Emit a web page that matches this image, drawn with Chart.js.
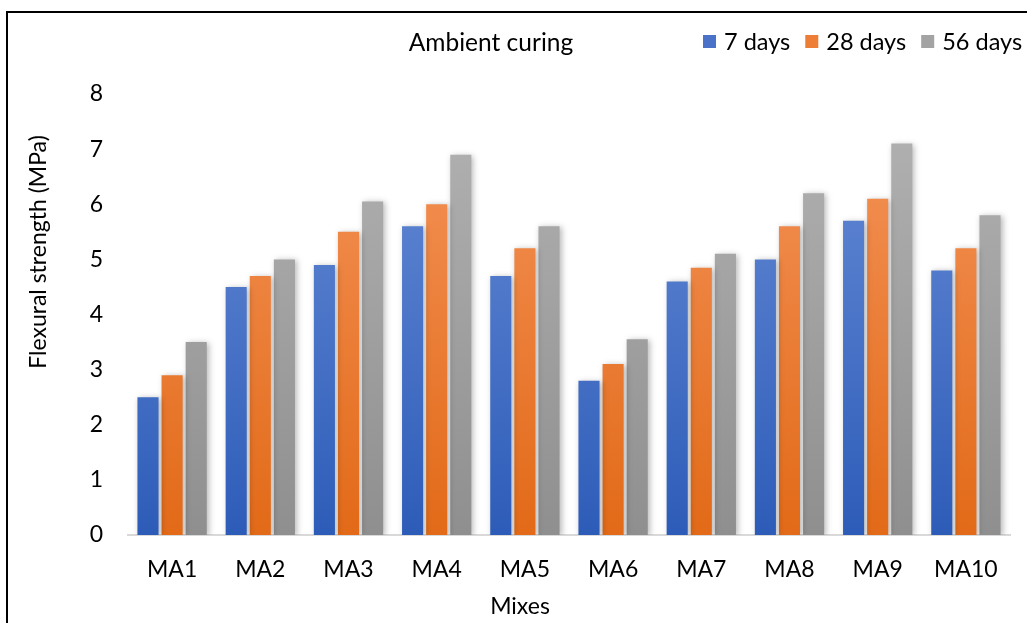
<!DOCTYPE html>
<html>
<head>
<meta charset="utf-8">
<script src="https://cdn.jsdelivr.net/npm/chart.js@4.4.1/dist/chart.umd.min.js"></script>
<style>
  html, body { margin: 0; padding: 0; background: #fff; }
  #wrap { position: relative; width: 1027px; height: 623px; overflow: hidden; }
  #frame { position: absolute; left: 6px; top: 11px; width: 1100px; height: 700px;
           border-left: 2px solid #000; border-top: 2px solid #000; pointer-events: none; }
  canvas { position: absolute; left: 0; top: 0; }
</style>
</head>
<body>
<div id="wrap">
  <canvas id="chart" width="1027" height="623"></canvas>
  <div id="frame"></div>
</div>
<script>
// Mix designations along the x axis
const categories = ['MA1', 'MA2', 'MA3', 'MA4', 'MA5', 'MA6', 'MA7', 'MA8', 'MA9', 'MA10'];
// Flexural strength (MPa) at each curing age
const days7  = [2.5, 4.5, 4.9, 5.6, 4.7, 2.8, 4.6, 5.0, 5.7, 4.8];
const days28 = [2.9, 4.7, 5.5, 6.0, 5.2, 3.1, 4.85, 5.6, 6.1, 5.2];
const days56 = [3.5, 5.0, 6.05, 6.9, 5.6, 3.55, 5.1, 6.2, 7.1, 5.8];
const seriesLabels = ['7 days', '28 days', '56 days'];
const yTicks = [0, 1, 2, 3, 4, 5, 6, 7, 8];

const FONT = 'Lato, "Open Sans", sans-serif';

// vertical gradient for a bar fill: light at top, deep at bottom
function vGrad(top, bottom) {
  return function (ctx) {
    const chart = ctx.chart;
    const a = chart.chartArea;
    if (!a) return bottom;
    const g = chart.ctx.createLinearGradient(0, a.bottom, 0, a.top);
    g.addColorStop(0, bottom);
    g.addColorStop(1, top);
    return g;
  };
}

const palette = [
  { top: '#6a8ed8', bottom: '#2d5cb8', legend: '#4a72c8' },
  { top: '#f5955c', bottom: '#e26a18', legend: '#ee7d35' },
  { top: '#b3b3b3', bottom: '#8f8f8f', legend: '#a3a3a3' }
];

// soft drop shadow behind the bars
const barShadow = {
  id: 'barShadow',
  beforeDatasetsDraw(chart) {
    const c = chart.ctx;
    c.save();
    c.shadowColor = 'rgba(0,0,0,0.28)';
    c.shadowBlur = 6;
    c.shadowOffsetX = 2;
    c.shadowOffsetY = 1;
  },
  afterDatasetsDraw(chart) {
    chart.ctx.restore();
  }
};

// headline, legend row and axis titles
const annotations = {
  id: 'annotations',
  afterDraw(chart) {
    const c = chart.ctx;
    c.save();
    c.fillStyle = '#000';
    c.textBaseline = 'middle';
    c.textAlign = 'center';
    c.font = '24.5px ' + FONT;
    c.fillText('Ambient curing', 491, 43);

    // legend
    c.textAlign = 'left';
    c.font = '23.5px ' + FONT;
    let x = 703;
    chart.data.datasets.forEach((ds, i) => {
      c.fillStyle = palette[i].legend;
      c.fillRect(x, 35, 13, 13);
      c.fillStyle = '#000';
      c.fillText(ds.label, x + 21, 42);
      x += 21 + c.measureText(ds.label).width + 15;
    });

    c.font = '23px ' + FONT;
    c.textAlign = 'center';
    c.fillText('Mixes', 520, 607);

    c.translate(39, 252);
    c.rotate(-Math.PI / 2);
    c.fillText('Flexural strength (MPa)', 0, 0);
    c.restore();
  }
};

const series = [days7, days28, days56];

new Chart(document.getElementById('chart'), {
  type: 'bar',
  data: {
    labels: categories,
    datasets: series.map((d, i) => ({
      label: seriesLabels[i],
      data: d,
      backgroundColor: vGrad(palette[i].top, palette[i].bottom),
      borderWidth: 0,
      barPercentage: 0.875,
      categoryPercentage: 0.82
    }))
  },
  options: {
    responsive: false,
    animation: false,
    devicePixelRatio: 1,
    layout: { padding: { top: 94, right: 17, bottom: 0, left: 0 } },
    plugins: {
      legend: { display: false },
      title: { display: false },
      tooltip: { enabled: false }
    },
    scales: {
      x: {
        grid: { display: false, drawTicks: false },
        border: { display: true, color: '#d9d9d9', width: 2 },
        ticks: { color: '#000', font: { family: FONT, size: 23 }, padding: 21 },
        afterFit(scale) { scale.height = 88; }
      },
      y: {
        min: 0,
        max: 8,
        grid: { display: false, drawTicks: false },
        border: { display: false },
        afterBuildTicks(scale) { scale.ticks = yTicks.map(v => ({ value: v })); },
        ticks: { color: '#000', font: { family: FONT, size: 23 }, padding: 25 },
        afterFit(scale) { scale.width = 128; }
      }
    }
  },
  plugins: [barShadow, annotations]
});
</script>
</body>
</html>
